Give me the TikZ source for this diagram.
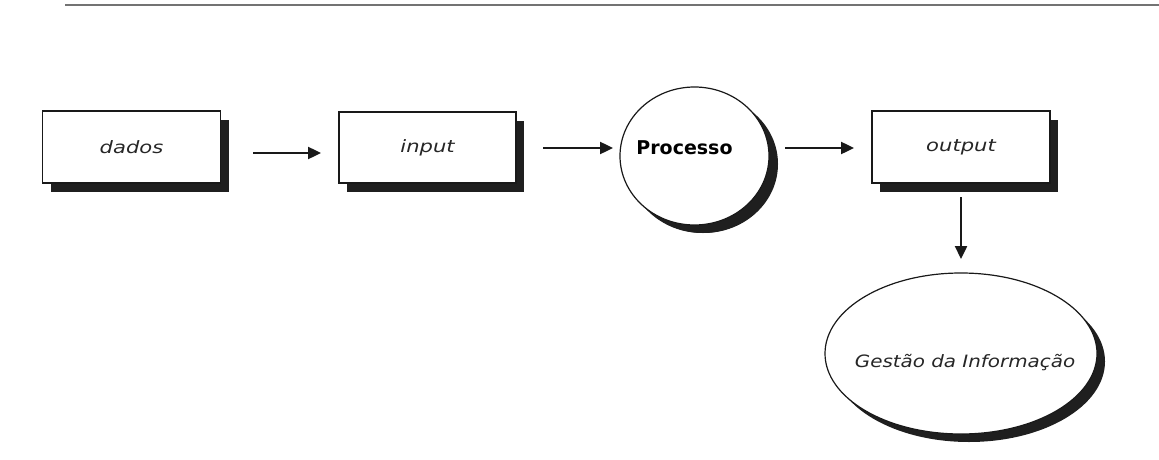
\documentclass[tikz,border=0pt]{standalone}
\usepackage{fontspec}
\setmainfont{DejaVu Sans}
\usetikzlibrary{shapes.geometric,shadows,arrows.meta}
\begin{document}
\begin{tikzpicture}[x=1pt,y=-1pt,
  boxnode/.style={draw=black!90,line width=1.2pt,fill=white,rectangle,
    minimum width=178pt,minimum height=72pt,inner sep=0pt,
    drop shadow={shadow xshift=8pt,shadow yshift=-9pt,opacity=1,fill=black!88}},
  ovalnode/.style={draw=black!90,line width=1.2pt,fill=white,ellipse,inner sep=0pt,
    drop shadow={shadow xshift=8pt,shadow yshift=-8pt,opacity=1,fill=black!88}},
  itlabel/.style={font=\fontsize{17}{20}\selectfont\itshape,text=black!85},
  flow/.style={line width=2.4pt,draw=black!90,-{Triangle[length=13pt,width=12pt]}}
]
\useasboundingbox (0,0) rectangle (1159,460);
% top rule
\coordinate (tl) at (65,5);
\coordinate (tr) at (1159,5);
\draw[line width=2.6pt,color=black!55] (tl) -- (tr);

\node[boxnode,itlabel] (dados) at (131.5,147) {\scalebox{1.24}[1]{dados}};
\node[boxnode,itlabel,minimum width=177pt,minimum height=71pt] (input) at (427.5,147.5) {\raisebox{3pt}{\scalebox{1.24}[1]{input}}};
\node[ovalnode,minimum width=149pt,minimum height=138pt,
  drop shadow={shadow xshift=9pt,shadow yshift=-8pt,opacity=1,fill=black!88}] (proc) at (694.5,156) {};
\node[font=\fontsize{19}{22}\selectfont\bfseries,anchor=base] (proctext) at (684.5,154) {Processo};
\node[boxnode,itlabel] (output) at (961,147) {\raisebox{3pt}{\scalebox{1.24}[1]{output}}};
\node[ovalnode,minimum width=272pt,minimum height=161pt] (gest) at (961,353.5) {};
\node[itlabel,anchor=base] (gesttext) at (965,367) {\scalebox{1.17}[1]{Gestão da Informação}};

\coordinate (a1s) at (253,153); \coordinate (a1e) at (321,153);
\coordinate (a2s) at (543,148); \coordinate (a2e) at (613,148);
\coordinate (a3s) at (785,148); \coordinate (a3e) at (854,148);
\coordinate (a4s) at (961,197); \coordinate (a4e) at (961,259);
\draw[flow] (a1s) -- (a1e);
\draw[flow] (a2s) -- (a2e);
\draw[flow] (a3s) -- (a3e);
\draw[flow] (a4s) -- (a4e);
\end{tikzpicture}
\end{document}
